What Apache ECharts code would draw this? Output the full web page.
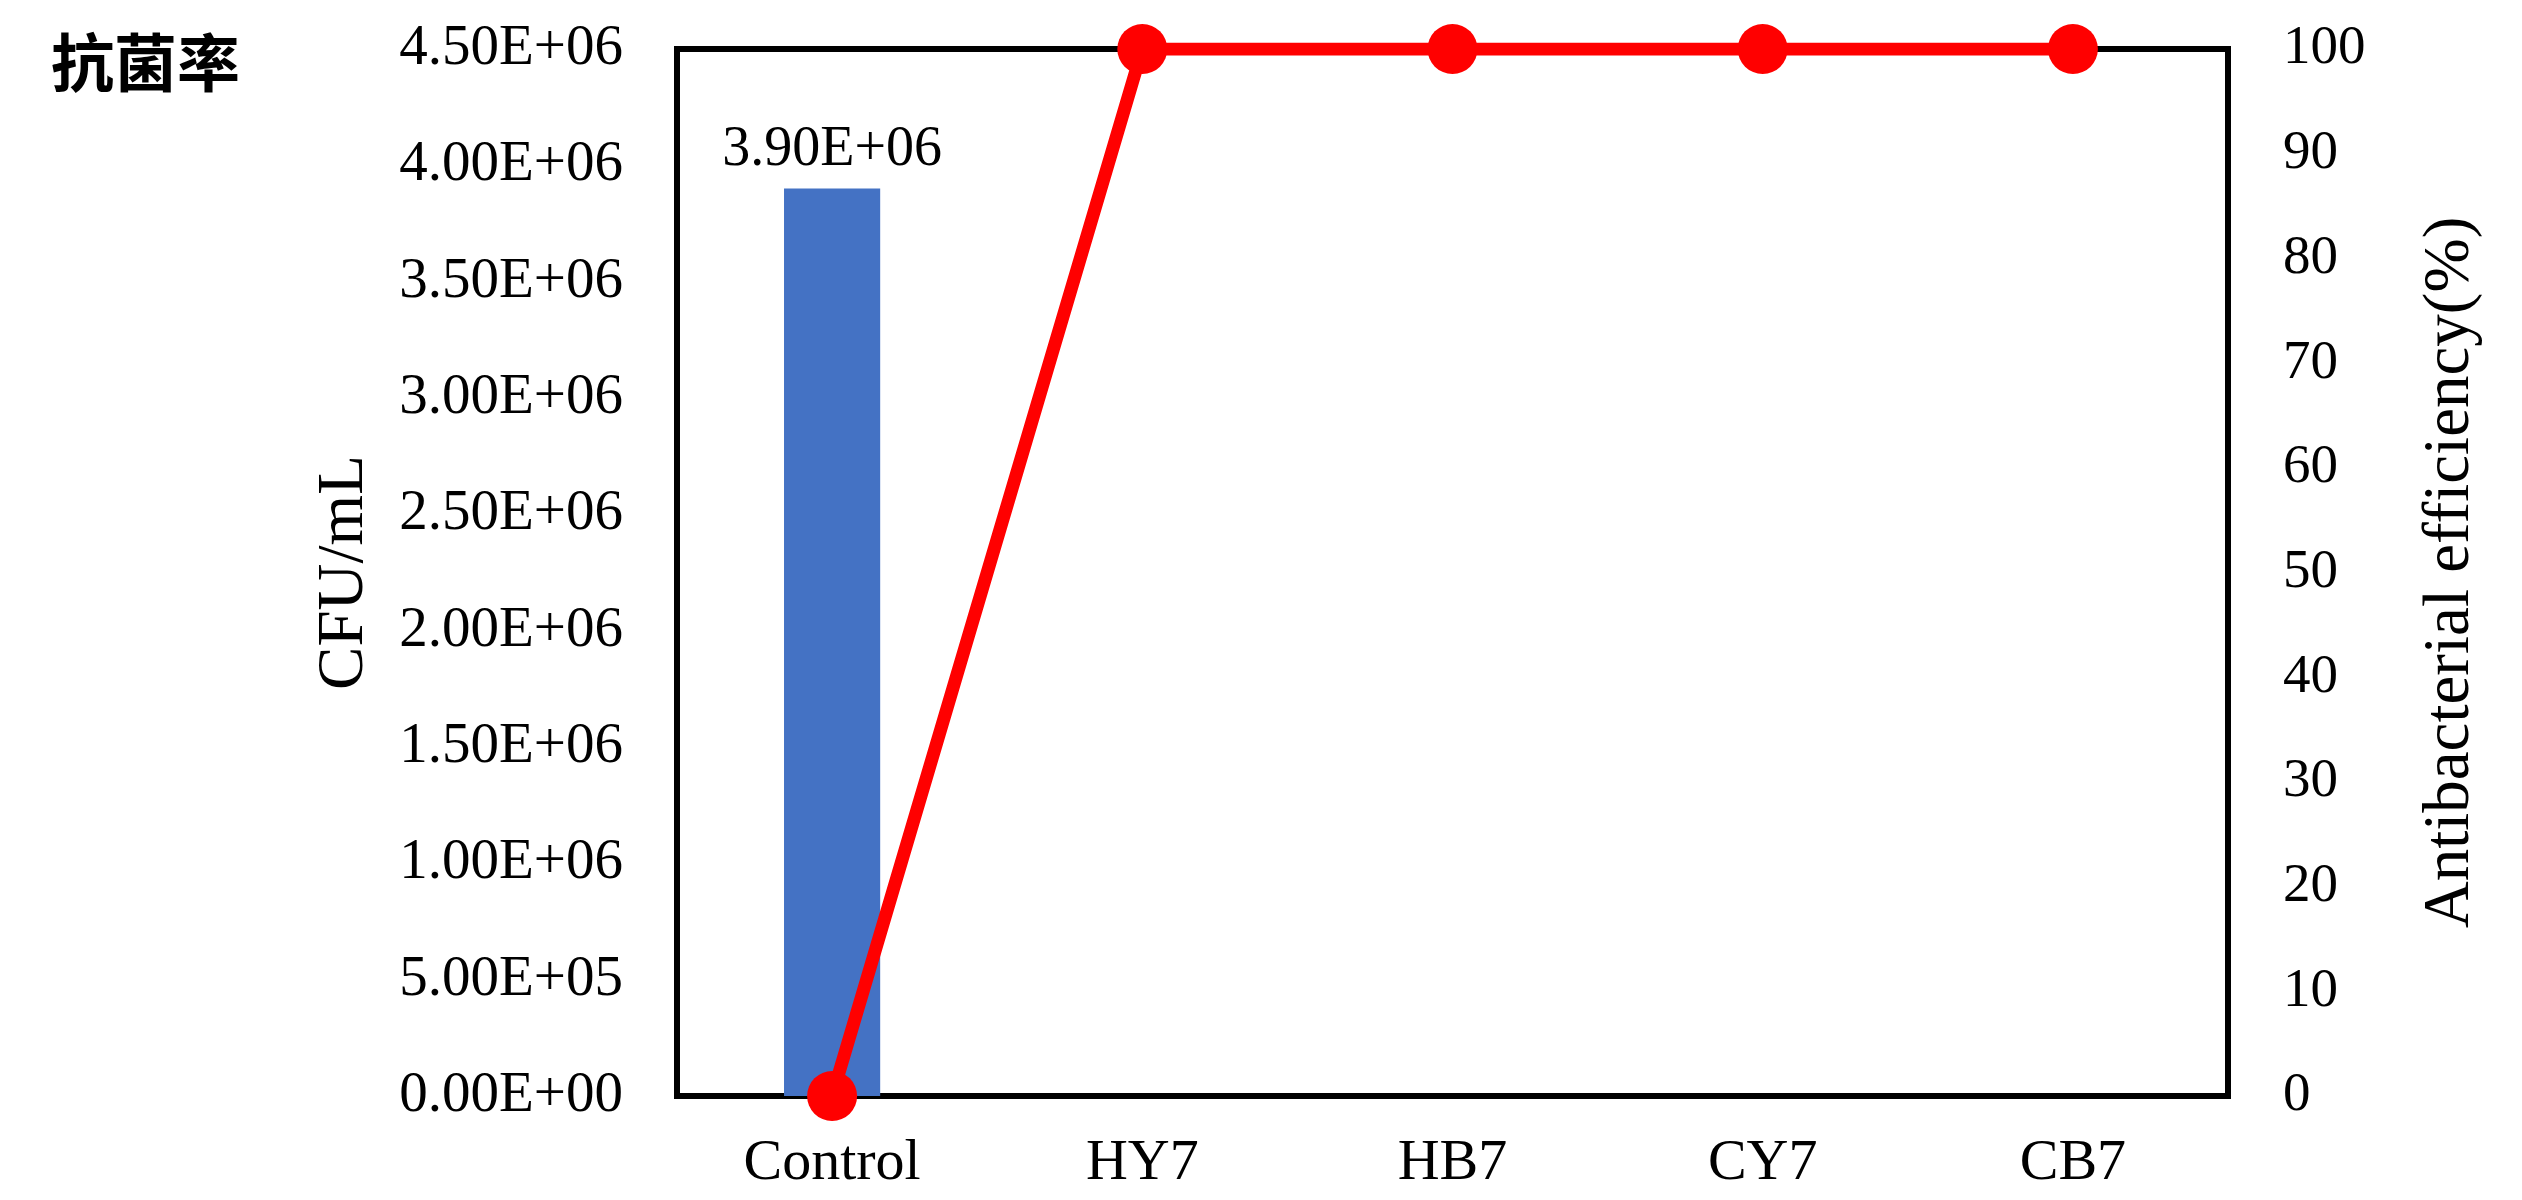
<!DOCTYPE html>
<html>
<head>
<meta charset="utf-8">
<title>抗菌率</title>
<script src="https://cdn.jsdelivr.net/npm/echarts@6/dist/echarts.min.js"></script>
<style>
  html, body { margin: 0; padding: 0; background: #fff; }
  #chart { width: 2522px; height: 1200px; }
</style>
</head>
<body>
<div id="chart"></div>
<script>
// Samples on the category axis
const categories = ['Control', 'HY7', 'HB7', 'CY7', 'CB7'];
// Viable count (CFU/mL) per sample
const cfuValues = [3900000, 0, 0, 0, 0];
// Antibacterial efficiency (%) per sample
const efficiencyValues = [0, 100, 100, 100, 100];

const SERIF = '"Liberation Serif", "Times New Roman", serif';

// 3900000 -> "3.90E+06"
function sci(v) {
  if (v === 0) return '0.00E+00';
  const exp = Math.floor(Math.log10(Math.abs(v)));
  const mant = v / Math.pow(10, exp);
  const sign = exp < 0 ? '-' : '+';
  const e = String(Math.abs(exp)).padStart(2, '0');
  return mant.toFixed(2) + 'E' + sign + e;
}

const chart = echarts.init(document.getElementById('chart'), null, { renderer: 'canvas' });

chart.setOption({
  animation: false,
  backgroundColor: '#ffffff',
  textStyle: { fontFamily: SERIF, color: '#000' },
  title: {
    text: '抗菌率',
    left: 46,
    top: 26,
    textStyle: {
      fontFamily: '"Noto Sans CJK SC", sans-serif',
      fontWeight: 'bold',
      fontSize: 63,
      color: '#000'
    }
  },
  grid: {
    left: 677,
    right: 294,
    top: 49,
    bottom: 104,
    show: true,
    borderColor: '#000',
    borderWidth: 6,
    backgroundColor: 'transparent'
  },
  xAxis: {
    type: 'category',
    data: categories,
    boundaryGap: true,
    axisLine: { show: false },
    axisTick: { show: false },
    axisLabel: {
      fontFamily: SERIF,
      fontSize: 58,
      color: '#000',
      margin: 39
    }
  },
  yAxis: [
    {
      type: 'value',
      min: 0,
      max: 4500000,
      interval: 500000,
      name: 'CFU/mL',
      nameLocation: 'middle',
      nameRotate: 90,
      nameGap: 300,
      nameTextStyle: { fontFamily: SERIF, fontSize: 65, color: '#000' },
      axisLine: { show: false },
      axisTick: { show: false },
      splitLine: { show: false },
      axisLabel: {
        fontFamily: SERIF,
        fontSize: 57,
        color: '#000',
        margin: 54,
        formatter: sci
      }
    },
    {
      type: 'value',
      min: 0,
      max: 100,
      interval: 10,
      position: 'right',
      name: 'Antibacterial efficiency(%)',
      nameLocation: 'middle',
      nameRotate: 90,
      nameGap: 190,
      nameTextStyle: { fontFamily: SERIF, fontSize: 65, color: '#000' },
      axisLine: { show: false },
      axisTick: { show: false },
      splitLine: { show: false },
      axisLabel: {
        fontFamily: SERIF,
        fontSize: 55,
        color: '#000',
        margin: 55
      }
    }
  ],
  series: [
    {
      name: 'CFU/mL',
      type: 'bar',
      yAxisIndex: 0,
      data: cfuValues,
      barWidth: '31%',
      itemStyle: { color: '#4472C4' },
      label: {
        show: true,
        position: 'top',
        distance: 10,
        fontFamily: SERIF,
        fontSize: 56,
        color: '#000',
        formatter: p => (p.value ? sci(p.value) : '')
      },
      z: 2
    },
    {
      name: 'Antibacterial efficiency(%)',
      type: 'line',
      yAxisIndex: 1,
      data: efficiencyValues,
      symbol: 'circle',
      symbolSize: 50,
      lineStyle: { color: '#FF0000', width: 13 },
      itemStyle: { color: '#FF0000' },
      z: 3
    }
  ]
});
</script>
</body>
</html>
